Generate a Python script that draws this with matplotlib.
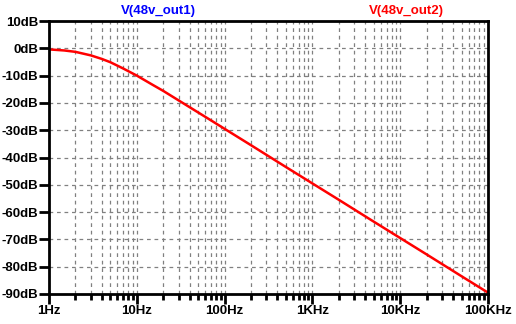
import matplotlib
matplotlib.use("Agg")
import matplotlib.pyplot as plt
from matplotlib.ticker import LogLocator, NullFormatter

# data (frequency in Hz, gain in dB)
freq = [1, 1.5, 2, 3, 4, 5, 7, 10, 15, 20, 30, 50, 70, 100, 200, 500,
        1000, 2000, 5000, 10000, 20000, 50000, 100000]
gain = [-0.4, -0.8, -1.3, -2.6, -3.9, -5.1, -7.4, -10.0, -13.3, -15.6, -19.1,
        -23.5, -26.4, -29.5, -35.5, -43.5, -49.5, -55.5, -63.5, -69.5,
        -75.5, -83.5, -89.5]

x_ticks = [1, 10, 100, 1000, 10000, 100000]
x_labels = ["1Hz", "10Hz", "100Hz", "1KHz", "10KHz", "100KHz"]
y_ticks = list(range(-90, 11, 10))
y_labels = ["%ddB" % v for v in y_ticks]

plt.rcParams["font.family"] = ["Liberation Sans", "DejaVu Sans"]
plt.rcParams["font.weight"] = "bold"

fig = plt.figure(figsize=(5.16, 3.24), dpi=100)
ax = fig.add_axes([49 / 516, 1 - 294 / 324, 439 / 516, 273 / 324])

ax.plot(freq, gain, color="#ff0000", lw=1.8)

ax.set_xscale("log")
ax.set_xlim(1, 100000)
ax.set_ylim(-90, 10)

ax.set_xticks(x_ticks)
ax.set_xticklabels(x_labels, fontsize=9.5, fontweight="bold")
ax.xaxis.set_minor_locator(LogLocator(base=10, subs=range(2, 10)))
ax.xaxis.set_minor_formatter(NullFormatter())
ax.set_yticks(y_ticks)
ax.set_yticklabels(y_labels, fontsize=9.5, fontweight="bold")

ax.tick_params(axis="both", which="major", direction="out", length=7, width=2, pad=1)
ax.tick_params(axis="x", which="minor", direction="out", length=4, width=2)

ax.grid(True, which="major", color="#808080", ls=(0, (3, 3)), lw=0.9)
ax.grid(True, which="minor", axis="x", color="#808080", ls=(0, (3, 3)), lw=0.9)

for s in ax.spines.values():
    s.set_linewidth(2)
    s.set_color("black")

fig.text(158 / 516, 1 - 11 / 324, "V(48v_out1)", color="#0000ff", fontsize=9.5,
         fontweight="bold", ha="center", va="center")
fig.text(406 / 516, 1 - 11 / 324, "V(48v_out2)", color="#ff0000", fontsize=9.5,
         fontweight="bold", ha="center", va="center")

fig.savefig("out.png", dpi=100)
